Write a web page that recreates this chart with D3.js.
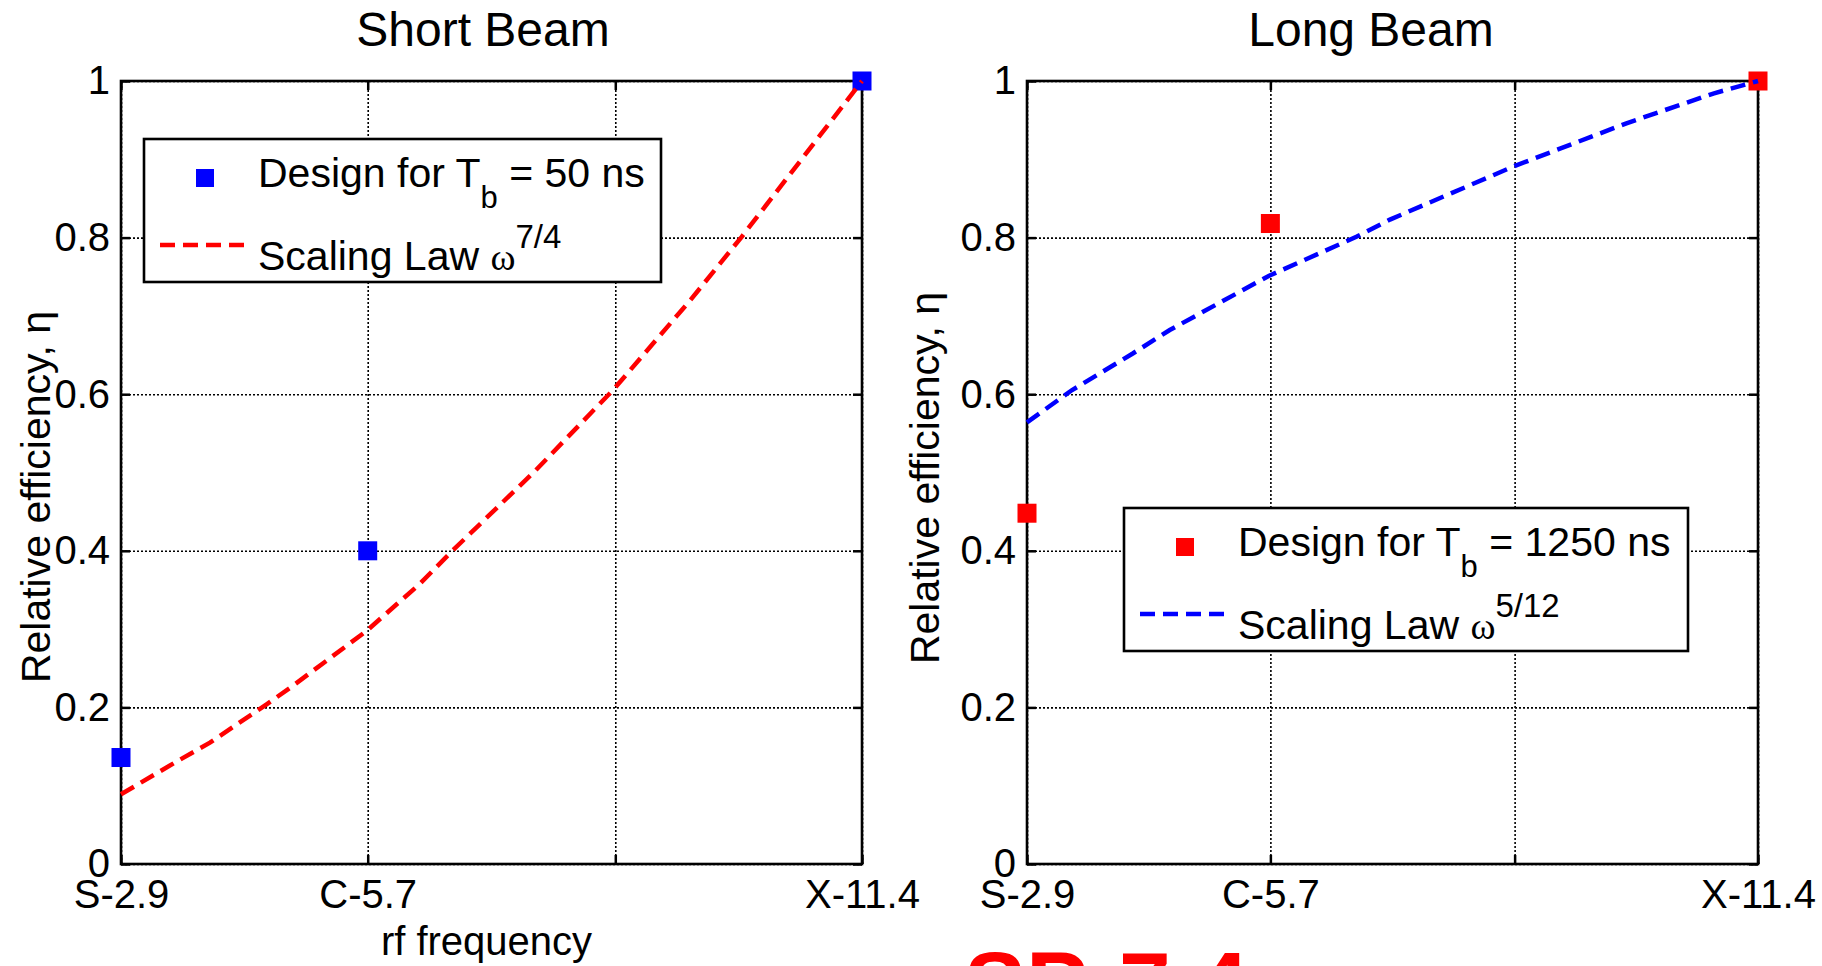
<!DOCTYPE html>
<html>
<head>
<meta charset="utf-8">
<script src="https://cdnjs.cloudflare.com/ajax/libs/d3/7.8.5/d3.min.js"></script>
<style>
  body { margin: 0; background: #fff; overflow: hidden; }
  svg { display: block; font-family: "Liberation Sans", Arial, sans-serif; }
</style>
</head>
<body>
<script>
// x axis: rf frequency (GHz), four evenly spaced ticks, third one unlabeled
var freqTicks = [2.9, 5.73, 8.57, 11.4];
var freqTickLabels = ["S-2.9", "C-5.7", "", "X-11.4"];
var etaTicks = [0, 0.2, 0.4, 0.6, 0.8, 1];

// design points (squares)
var designFreq = [2.9, 5.73, 11.4];
var shortDesign = [0.136, 0.4, 1.0];
var longDesign = [0.448, 0.818, 1.0];

// scaling law curves
var shortLawFreq = [2.9, 3.54, 3.92, 4.57, 4.84, 5.72, 6.33, 6.71, 7.65, 8.55, 9.43, 10.02, 11.4];
var shortLawEta  = [0.089, 0.131, 0.155, 0.204, 0.225, 0.298, 0.358, 0.401, 0.502, 0.606, 0.72, 0.801, 1.0];
var longLawFreq = [2.9, 3.42, 4.13, 4.56, 5.71, 6.73, 7.12, 8.56, 9.87, 10.88, 11.4];
var longLawEta  = [0.564, 0.605, 0.652, 0.682, 0.751, 0.801, 0.823, 0.891, 0.946, 0.984, 1.0];

var W = 1822, H = 966;
var svg = d3.select(document.body).append('svg')
  .attr('width', W).attr('height', H);

var panels = [
  {
    title: 'Short Beam', titleX: 483,
    left: 121, right: 862, top: 81, bottom: 864,
    yLabelX: 50, yLabelY: 497, xLabel: 'rf frequency',
    design: shortDesign, markerColor: '#0000ff',
    lawFreq: shortLawFreq, lawEta: shortLawEta, lineColor: '#ff0000',
    legend: { x: 144, y: 139, w: 517, h: 143, tb: '50 ns', exp: '7/4' }
  },
  {
    title: 'Long Beam', titleX: 1371,
    left: 1027, right: 1758, top: 81, bottom: 864,
    yLabelX: 939, yLabelY: 478, xLabel: null,
    design: longDesign, markerColor: '#ff0000',
    lawFreq: longLawFreq, lawEta: longLawEta, lineColor: '#0000ff',
    legend: { x: 1124, y: 508, w: 564, h: 143, tb: '1250 ns', exp: '5/12' }
  }
];

panels.forEach(function(p) {
  var x = d3.scaleLinear().domain([2.9, 11.4]).range([p.left, p.right]);
  var y = d3.scaleLinear().domain([0, 1]).range([p.bottom, p.top]);
  var w = p.right - p.left, h = p.bottom - p.top;
  var g = svg.append('g');

  // dotted grid
  g.append('g').attr('transform', 'translate(0,' + p.bottom + ')')
    .call(d3.axisBottom(x).tickValues(freqTicks).tickSize(-h).tickFormat(''))
    .call(function(a) { a.select('.domain').remove(); });
  g.append('g').attr('transform', 'translate(' + p.left + ',0)')
    .call(d3.axisLeft(y).tickValues(etaTicks).tickSize(-w).tickFormat(''))
    .call(function(a) { a.select('.domain').remove(); });
  g.selectAll('.tick line')
    .attr('stroke', '#000').attr('stroke-width', 1.6).attr('stroke-dasharray', '2,2');

  // inward ticks on all four sides
  var tk = 9;
  var tAxes = [
    [d3.axisBottom(x).tickValues(freqTicks), 'translate(0,' + p.bottom + ')'],
    [d3.axisTop(x).tickValues(freqTicks), 'translate(0,' + p.top + ')'],
    [d3.axisLeft(y).tickValues(etaTicks), 'translate(' + p.left + ',0)'],
    [d3.axisRight(y).tickValues(etaTicks), 'translate(' + p.right + ',0)']
  ];
  tAxes.forEach(function(t) {
    g.append('g').attr('class', 'inticks').attr('transform', t[1])
      .call(t[0].tickSize(-tk).tickFormat(''))
      .call(function(a) { a.select('.domain').remove(); })
      .selectAll('line').attr('stroke', '#000').attr('stroke-width', 2.5);
  });

  // box
  g.append('rect')
    .attr('x', p.left).attr('y', p.top).attr('width', w).attr('height', h)
    .attr('fill', 'none').attr('stroke', '#000').attr('stroke-width', 2.6);

  // tick labels
  var xl = g.append('g').attr('transform', 'translate(0,' + p.bottom + ')')
    .call(d3.axisBottom(x).tickValues(freqTicks).tickSize(0).tickPadding(16)
      .tickFormat(function(d, i) { return freqTickLabels[i]; }));
  xl.select('.domain').remove();
  var yl = g.append('g').attr('transform', 'translate(' + p.left + ',0)')
    .call(d3.axisLeft(y).tickValues(etaTicks).tickSize(0).tickPadding(11)
      .tickFormat(d3.format('~g')));
  yl.select('.domain').remove();
  g.selectAll('.tick text')
    .attr('font-family', '"Liberation Sans", Arial, sans-serif')
    .attr('font-size', 40).attr('fill', '#000');

  // title and axis labels
  g.append('text').attr('x', p.titleX).attr('y', 46)
    .attr('text-anchor', 'middle').attr('font-size', 48).text(p.title);
  g.append('text')
    .attr('transform', 'translate(' + p.yLabelX + ',' + p.yLabelY + ') rotate(-90)')
    .attr('text-anchor', 'middle').attr('font-size', 41)
    .text('Relative efficiency, \u03b7');
  if (p.xLabel) {
    g.append('text').attr('x', (p.left + p.right) / 2 - 5).attr('y', 955)
      .attr('text-anchor', 'middle').attr('font-size', 40).text(p.xLabel);
  }

  // design points
  var ms = 19;
  g.selectAll('rect.pt').data(p.design).enter().append('rect')
    .attr('class', 'pt')
    .attr('x', function(d, i) { return x(designFreq[i]) - ms / 2; })
    .attr('y', function(d) { return y(d) - ms / 2; })
    .attr('width', ms).attr('height', ms)
    .attr('fill', p.markerColor);

  // scaling law
  var line = d3.line()
    .x(function(d, i) { return x(p.lawFreq[i]); })
    .y(function(d) { return y(d); });
  g.append('path').datum(p.lawEta)
    .attr('d', line).attr('fill', 'none')
    .attr('stroke', p.lineColor).attr('stroke-width', 4.5)
    .attr('stroke-dasharray', '15,8');

  // legend
  var L = p.legend;
  var lg = g.append('g');
  lg.append('rect').attr('x', L.x).attr('y', L.y).attr('width', L.w).attr('height', L.h)
    .attr('fill', '#fff').attr('stroke', '#000').attr('stroke-width', 2.6);
  lg.append('rect').attr('x', L.x + 52).attr('y', L.y + 30).attr('width', 18).attr('height', 18)
    .attr('fill', p.markerColor);
  var t1 = lg.append('text').attr('x', L.x + 114).attr('y', L.y + 48).attr('font-size', 41);
  t1.append('tspan').text('Design for T');
  t1.append('tspan').attr('dy', 21).attr('font-size', 31).text('b');
  t1.append('tspan').attr('dy', -21).text(' = ' + L.tb);
  lg.append('line').attr('x1', L.x + 16).attr('x2', L.x + 104)
    .attr('y1', L.y + 106).attr('y2', L.y + 106)
    .attr('stroke', p.lineColor).attr('stroke-width', 4.5).attr('stroke-dasharray', '15,8');
  var t2 = lg.append('text').attr('x', L.x + 114).attr('y', L.y + 131).attr('font-size', 41);
  t2.append('tspan').text('Scaling Law ');
  t2.append('tspan').attr('font-family', '"Liberation Serif", serif').attr('font-size', 38).text('\u03c9');
  t2.append('tspan').attr('dy', -22).attr('font-size', 33).text(L.exp);
});

// red caption cut off at the bottom edge of the slide
svg.append('text').attr('x', 964).attr('y', 1017)
  .attr('font-size', 93).attr('font-weight', 'bold').attr('fill', '#ff0000')
  .text('SP-7.4');
</script>
</body>
</html>
